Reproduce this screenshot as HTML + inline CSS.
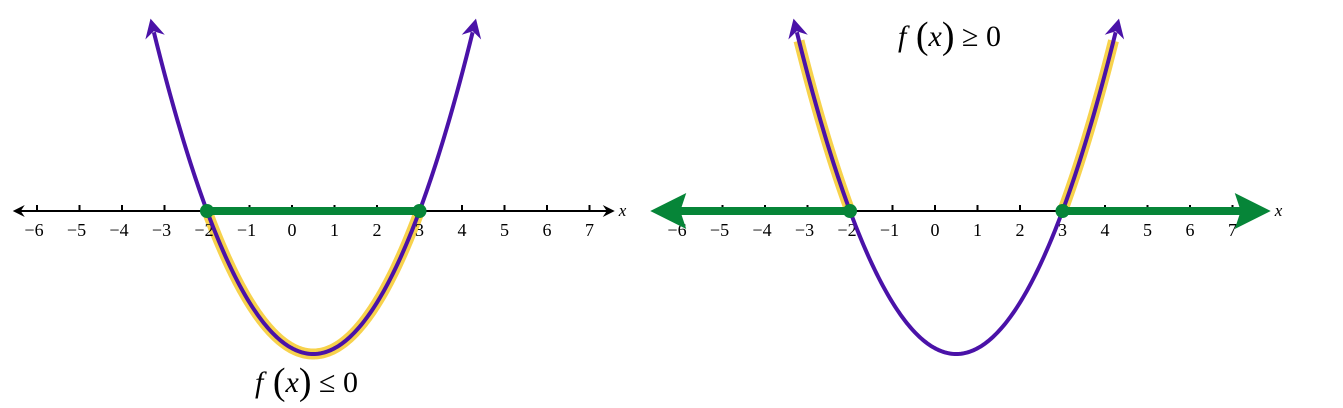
<!DOCTYPE html>
<html><head><meta charset="utf-8"><style>
html,body{margin:0;padding:0;background:#fff;}
svg{display:block;}
text{font-family:"Liberation Serif",serif;}
</style></head><body>
<svg id="chart" width="1343" height="408" viewBox="0 0 1343 408"></svg>
<script>
const tickValues=[-6,-5,-4,-3,-2,-1,0,1,2,3,4,5,6,7];
const tickLabels=["−6","−5","−4","−3","−2","−1","0","1","2","3","4","5","6","7"];
const roots=[-2,3];
const leadCoef=1;
const vertexValue=-6.25;
const curveDomain=[-3.25,4.25];
const NS="http://www.w3.org/2000/svg";
const svg=document.getElementById('chart');
function el(tag,attrs,parent){const e=document.createElementNS(NS,tag);for(const k in attrs)e.setAttribute(k,attrs[k]);(parent||svg).appendChild(e);return e;}
const axisY=211, unit=42.5, depth=143;
function panel(x0,type){
  const sx=v=>x0+v*unit;
  const sy=v=>axisY-v*(depth/-vertexValue);
  const f=x=>leadCoef*(x-roots[0])*(x-roots[1]);
  const g=el('g',{});
  
  
  function curvePts(a,b){let p=[];for(let i=0;i<=200;i++){const x=a+(b-a)*i/200;p.push(sx(x).toFixed(2)+','+sy(f(x)).toFixed(2));}return p.join(' ');}
  if(type==='le'){
    const h=el('polyline',{points:curvePts(roots[0],roots[1]),fill:'none',stroke:'#f7d24c',"stroke-width":11,"stroke-linecap":"round"},g);
    
  } else {
    const h1=el('polyline',{points:curvePts(curveDomain[0]+0.05,roots[0]),fill:'none',stroke:'#f7d24c',"stroke-width":11},g);
    
    const h2=el('polyline',{points:curvePts(roots[1],curveDomain[1]-0.05),fill:'none',stroke:'#f7d24c',"stroke-width":11},g);
    
  }
  const L0=sx(-6.5)+3, R0=sx(7.5)-2;
  const ax=el('line',{x1:L0,y1:axisY,x2:R0,y2:axisY,stroke:'#000',"stroke-width":2},g);
  
  if(type==='le'){
    el('polygon',{points:`${L0-6},${axisY} ${L0+6},${axisY-6} ${L0+2},${axisY} ${L0+6},${axisY+6}`,fill:'#000'},g);
    el('polygon',{points:`${R0+6},${axisY} ${R0-6},${axisY-6} ${R0-2},${axisY} ${R0-6},${axisY+6}`,fill:'#000'},g);
  }
  tickValues.forEach((v,i)=>{
    const t=el('line',{x1:sx(v),y1:axisY-6,x2:sx(v),y2:axisY,stroke:'#000',"stroke-width":2},g);
    
    const l=el('text',{x:sx(v)-(tickLabels[i].length>1?3:0),y:axisY+25,"text-anchor":"middle","font-size":18},g);
    l.textContent=tickLabels[i];
    
  });
  const xl=el('text',{x:(type==='le'?R0+10:sx(7.9)+4),y:axisY+5,"font-size":17,"font-style":"italic"},g);
  xl.textContent='x';
  const gc='#068538';
  if(type==='le'){
    const s=el('line',{x1:sx(roots[0]),y1:axisY,x2:sx(roots[1]),y2:axisY,stroke:gc,"stroke-width":8},g);
    
  } else {
    const s1=el('line',{x1:sx(-6.4),y1:axisY,x2:sx(roots[0]),y2:axisY,stroke:gc,"stroke-width":8},g);
    
    const a1=el('polygon',{points:`${sx(-6.7)},${axisY} ${sx(-6.7)+36},${axisY-18} ${sx(-6.7)+30},${axisY} ${sx(-6.7)+36},${axisY+18}`,fill:gc},g);
    
    const s2=el('line',{x1:sx(roots[1]),y1:axisY,x2:sx(7.3),y2:axisY,stroke:gc,"stroke-width":8},g);
    
    const a2=el('polygon',{points:`${sx(7.9)},${axisY} ${sx(7.9)-36},${axisY-18} ${sx(7.9)-30},${axisY} ${sx(7.9)-36},${axisY+18}`,fill:gc},g);
    
  }
  const c=el('polyline',{points:curvePts(curveDomain[0],curveDomain[1]),fill:'none',stroke:'#4a12a8',"stroke-width":4},g);
  
  [curveDomain[0],curveDomain[1]].forEach((x,i)=>{
    const d=i===0?-0.01:0.01;
    const px=sx(x),py=sy(f(x)),qx=sx(x+d),qy=sy(f(x+d));
    let dx=qx-px,dy=qy-py;const L=Math.hypot(dx,dy);dx/=L;dy/=L;
    const tip=[px+dx*14,py+dy*14],nx=-dy,ny=dx;
    const back=[px-dx*5,py-dy*5];
    const a=el('polygon',{points:`${tip[0]},${tip[1]} ${back[0]+nx*10},${back[1]+ny*10} ${px+dx*1},${py+dy*1} ${back[0]-nx*10},${back[1]-ny*10}`,fill:'#4a12a8'},g);
    
  });
  roots.forEach(r=>{
    const p=el('circle',{cx:sx(r),cy:axisY,r:7,fill:gc},g);
    
  });
  const lx=type==='le'?255:898, ly=type==='le'?392:46;
  const t=el('text',{x:lx,y:ly,"font-size":30},g);
  t.innerHTML='<tspan font-style="italic">f</tspan><tspan font-size="38" dy="2"> (</tspan><tspan font-style="italic" dy="-2">x</tspan><tspan font-size="38" dy="2">)</tspan><tspan dy="-2"> '+(type==='le'?'≤':'≥')+' 0</tspan>';
  
}
panel(292,'le');
panel(935,'ge');
</script>
</body></html>
